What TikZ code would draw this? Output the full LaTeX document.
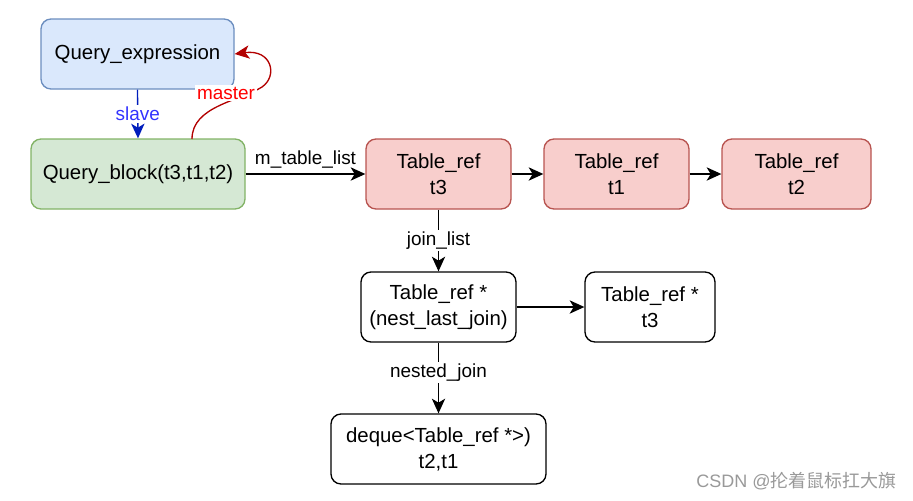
\documentclass[tikz,border=0pt]{standalone}
\usepackage{fontspec}
\setmainfont{Liberation Sans}
\newfontfamily\cjk{Noto Sans CJK SC}
\usetikzlibrary{arrows.meta}
\definecolor{qefill}{HTML}{DAE8FC}\definecolor{qedraw}{HTML}{6C8EBF}
\definecolor{qbfill}{HTML}{D5E8D4}\definecolor{qbdraw}{HTML}{82B366}
\definecolor{trfill}{HTML}{F8CECC}\definecolor{trdraw}{HTML}{B85450}
\definecolor{slaveline}{HTML}{001DBC}\definecolor{slavetext}{HTML}{3333FF}
\definecolor{masterline}{HTML}{B20000}\definecolor{mastertext}{HTML}{FF0000}
\definecolor{wm}{HTML}{999999}
\tikzset{
  box/.style={draw, line width=1pt, rounded corners=7.5pt, minimum height=52.5pt,
    align=center, inner sep=2pt, font=\fontsize{15.3}{19.5}\selectfont},
  blue box/.style={box, fill=qefill, draw=qedraw},
  green box/.style={box, fill=qbfill, draw=qbdraw},
  red box/.style={box, fill=trfill, draw=trdraw},
  white box/.style={box, fill=white, draw=black},
  conn/.style={line width=1pt, -{Stealth[length=11pt,width=10pt,inset=3pt]}},
  lbl/.style={font=\fontsize{14.2}{17}\selectfont, fill=white, inner sep=1.5pt}
}
\begin{document}
\begin{tikzpicture}[x=0.75pt,y=-0.75pt]
\useasboundingbox (0,0) rectangle (913,500);
\node[blue box, minimum width=144.75pt] (qe) at (137.5,54) {Query\_expression};
\node[green box, minimum width=160.5pt] (qb) at (138,174) {Query\_block(t3,t1,t2)};
\node[red box, minimum width=108.75pt] (t3) at (438.5,174) {Table\_ref\\t3};
\node[red box, minimum width=108.75pt] (t1) at (616.5,174) {Table\_ref\\t1};
\node[red box, minimum width=111.75pt] (t2) at (796.5,174) {Table\_ref\\t2};
\node[white box, minimum width=116.25pt] (nest) at (438.5,307) {Table\_ref *\\(nest\_last\_join)};
\node[white box, minimum width=97.5pt] (t3s) at (650,307) {Table\_ref *\\t3};
\node[white box, minimum width=161.25pt] (dq) at (438.5,449) {deque<Table\_ref *>)\\t2,t1};

\draw[conn, slaveline] (qe.south) -- node[lbl, text=slavetext] {slave} (qb.north);
\coordinate (mstart) at (192,139);
\coordinate (mmid) at (262,87);
\draw[conn, masterline] (mstart) .. controls (192,106) and (240,101) .. (mmid)
  .. controls (278,76) and (272,49) .. (qe.east);
\node[lbl, text=mastertext] (mlbl) at (226,93) {master};
\draw[conn] (qb.east) -- node[lbl, above=2pt, fill=none] {m\_table\_list} (t3.west);
\draw[conn] (t3.east) -- (t1.west);
\draw[conn] (t1.east) -- (t2.west);
\draw[conn] (t3.south) -- node[lbl] {join\_list} (nest.north);
\draw[conn] (nest.east) -- (t3s.west);
\draw[conn] (nest.south) -- node[lbl, pos=0.42] {nested\_join} (dq.north);
\node[anchor=east, text=wm, font=\fontsize{13.5}{16}\selectfont, inner sep=0pt] (wmk) at (897,481) {CSDN @{\cjk 抡着鼠标扛大旗}};
\end{tikzpicture}
\end{document}
